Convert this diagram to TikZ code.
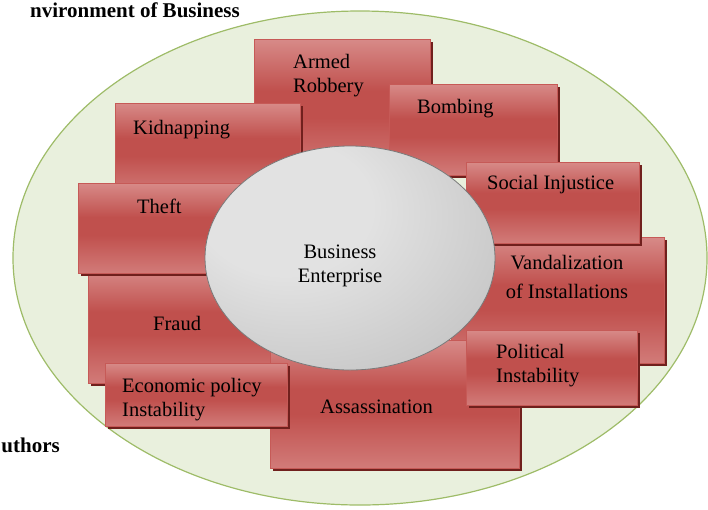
\documentclass[tikz,border=0pt]{standalone}
\usepackage{fontspec}
\setmainfont{Liberation Serif}
\usetikzlibrary{shapes.geometric,shadows,fit}
\definecolor{gLight}{HTML}{E9F0DD}
\definecolor{gMid}{HTML}{D8E5C2}
\definecolor{gDark}{HTML}{BCD294}
\definecolor{gBorder}{HTML}{9EBC68}
\definecolor{rLight}{HTML}{E0A09E}
\definecolor{rLow}{HTML}{D68583}
\definecolor{rDark}{HTML}{C0504D}
\definecolor{rBorder}{HTML}{C65A57}
\definecolor{rShadow}{HTML}{70201D}
\definecolor{kLight}{HTML}{E2E2E2}
\definecolor{kMid}{HTML}{BDBDBD}
\definecolor{kDark}{HTML}{868686}
\definecolor{kBorder}{HTML}{7A7A7A}
\pgfdeclareverticalshading{boxshade}{100bp}{color(0bp)=(rLow); color(20bp)=(rLow); color(46bp)=(rDark); color(56bp)=(rDark); color(82bp)=(rLight); color(100bp)=(rLight)}
\pgfdeclareradialshading{grayball}{\pgfpoint{-14bp}{14bp}}{color(0bp)=(kLight); color(15bp)=(kLight); color(45bp)=(kMid); color(62bp)=(kDark); color(75bp)=(kDark)}
\pgfdeclareradialshading{greenball}{\pgfpoint{0bp}{0bp}}{color(0bp)=(gLight); color(32bp)=(gLight); color(43bp)=(gMid); color(50bp)=(gDark); color(60bp)=(gDark)}
\tikzset{
  redbox/.style={rectangle, inner sep=0pt, draw=rBorder, line width=0.8pt, shading=boxshade,
    drop shadow={fill=rShadow, opacity=1, shadow xshift=3pt, shadow yshift=-3pt}},
  lbl/.style={inner sep=0pt, font=\fontsize{20.5}{24}\selectfont, text=black, align=left},
  ttl/.style={inner sep=0pt, font=\fontsize{21}{24}\selectfont\bfseries, text=black}
}
\begin{document}
\begin{tikzpicture}[x=1pt,y=-1pt]
\path[use as bounding box] (0,0) rectangle (708,509);
\clip (0,0) rectangle (708,509);
% outer environment
\node[ellipse, minimum width=694pt, minimum height=494pt, inner sep=0pt, draw=gBorder, line width=1.2pt, shading=greenball] (env) at (360,258) {};
% threat boxes (bottom to top)
\node[redbox, fit={(254,39) (430,175)}] (armed) {};
\node[redbox, fit={(115,103) (300,195)}] (kidnap) {};
\node[redbox, fit={(389,84) (557,175)}] (bomb) {};
\node[redbox, fit={(88,268) (272,383)}] (fraud) {};
\node[redbox, fit={(78,183) (240,273)}] (theft) {};
\node[redbox, fit={(451,237) (664,363)}] (vand) {};
\node[redbox, fit={(466,162) (639,243)}] (social) {};
\node[redbox, fit={(270,340) (519,468)}] (assas) {};
\node[redbox, fit={(466,330) (637,405)}] (polit) {};
\node[redbox, fit={(105,363) (287,426)}] (econ) {};
% core
\node[ellipse, minimum width=290pt, minimum height=224pt, inner sep=0pt, draw=kBorder, line width=0.8pt, shading=grayball] (core) at (350,258) {};
% labels (base anchor = baseline of last line)
\node[lbl, anchor=base west] (tarmed) at (293,92) {Armed\\Robbery};
\node[lbl, anchor=base west] (tkidnap) at (133,134) {Kidnapping};
\node[lbl, anchor=base west] (tbomb) at (417,113) {Bombing};
\node[lbl, anchor=base west] (ttheft) at (137,213) {Theft};
\node[lbl, anchor=base west] (tsocial) at (487,189) {Social Injustice};
\node[lbl, anchor=base, align=center, font=\fontsize{20.5}{29}\selectfont] (tvand) at (567,298) {Vandalization\\of Installations};
\node[lbl, anchor=base west] (tfraud) at (153,330) {Fraud};
\node[lbl, anchor=base west] (tpolit) at (496,382) {Political\\Instability};
\node[lbl, anchor=base west] (tecon) at (122,416) {Economic policy\\Instability};
\node[lbl, anchor=base west] (tassas) at (320,413) {Assassination};
\node[lbl, anchor=base, align=center] (tcore) at (340,282) {Business\\Enterprise};
% cropped captions
\node[ttl, anchor=base east] (title) at (240,17) {nvironment of Business};
\node[ttl, anchor=base east] (source) at (60,452) {uthors};
\end{tikzpicture}
\end{document}
